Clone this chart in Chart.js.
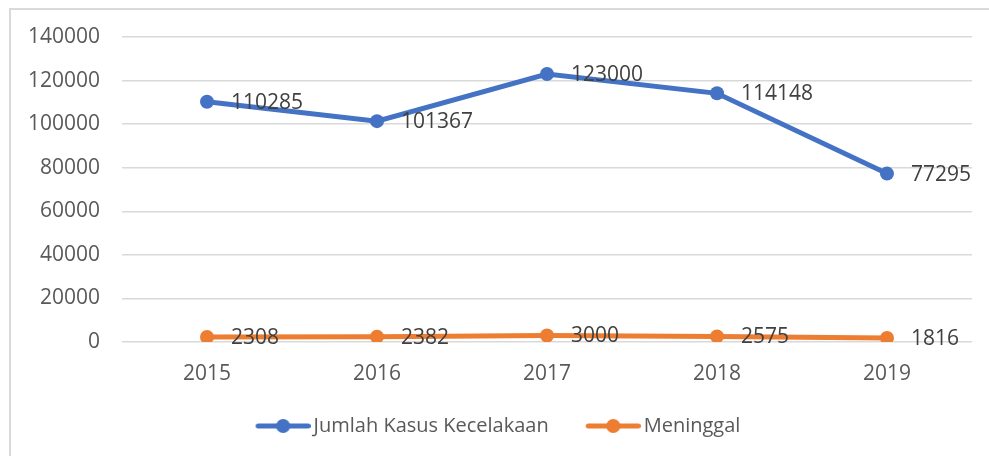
<!DOCTYPE html>
<html>
<head>
<meta charset="utf-8">
<script src="https://cdn.jsdelivr.net/npm/chart.js@4.4.1/dist/chart.umd.min.js"></script>
<style>
  html, body { margin: 0; padding: 0; background: #fff; overflow: hidden; }
  #frame { position: absolute; left: 9px; top: 8px; width: 1000px; height: 470px; border: 2px solid #d9d9d9; border-right: none; border-bottom: none; box-sizing: border-box; }
  #wrap { position: absolute; left: 0; top: 0; width: 989px; height: 456px; }
</style>
</head>
<body>
<div id="frame"></div>
<div id="wrap"><canvas id="c" width="989" height="456"></canvas></div>
<script>
const categories = ['2015', '2016', '2017', '2018', '2019'];
const seriesNames = ['Jumlah Kasus Kecelakaan', 'Meninggal'];
const kecelakaan = [110285, 101367, 123000, 114148, 77295];
const meninggal = [2308, 2382, 3000, 2575, 1816];
const yTicks = [0, 20000, 40000, 60000, 80000, 100000, 120000, 140000];

const BLUE = '#4472C4';
const ORANGE = '#ED7D31';
const FONT = "'Open Sans', 'Noto Sans', sans-serif";

function legendIcon(color) {
  const cv = document.createElement('canvas');
  cv.width = 70; cv.height = 16;
  const g = cv.getContext('2d');
  g.strokeStyle = color; g.lineWidth = 5; g.lineCap = 'round';
  g.beginPath(); g.moveTo(17.5, 8); g.lineTo(67.5, 8); g.stroke();
  g.fillStyle = color;
  g.beginPath(); g.arc(42.5, 8, 7, 0, Math.PI * 2); g.fill();
  return cv;
}
const icons = [legendIcon(BLUE), legendIcon(ORANGE)];

const dataLabels = {
  id: 'dataLabels',
  afterDatasetsDraw(chart) {
    const ctx = chart.ctx;
    ctx.save();
    ctx.font = '21px ' + FONT;
    ctx.fillStyle = '#404040';
    ctx.textAlign = 'left';
    ctx.textBaseline = 'middle';
    chart.data.datasets.forEach((ds, di) => {
      const meta = chart.getDatasetMeta(di);
      meta.data.forEach((pt, i) => {
        ctx.fillText(String(ds.data[i]), pt.x + 24, pt.y + 1);
      });
    });
    ctx.restore();
  }
};

new Chart(document.getElementById('c'), {
  type: 'line',
  data: {
    labels: categories,
    datasets: [
      { label: seriesNames[0], data: kecelakaan, borderColor: BLUE, backgroundColor: BLUE,
        borderWidth: 5, pointRadius: 7, pointHoverRadius: 7, pointBackgroundColor: BLUE, pointBorderColor: BLUE, pointBorderWidth: 0, tension: 0 },
      { label: seriesNames[1], data: meninggal, borderColor: ORANGE, backgroundColor: ORANGE,
        borderWidth: 5, pointRadius: 7, pointHoverRadius: 7, pointBackgroundColor: ORANGE, pointBorderColor: ORANGE, pointBorderWidth: 0, tension: 0 }
    ]
  },
  options: {
    responsive: false,
    animation: false,
    events: [],
    layout: { padding: { left: 16, right: 17, top: 37, bottom: 10 } },
    font: { family: FONT },
    scales: {
      x: {
        offset: true,
        grid: { display: false, drawTicks: false },
        border: { display: false },
        ticks: { color: '#595959', font: { family: FONT, size: 21 }, padding: 19, maxRotation: 0 },
        afterFit(scale) { scale.height = 45; }
      },
      y: {
        min: 0, max: 140000,
        afterBuildTicks(scale) { scale.ticks = yTicks.map(v => ({ value: v })); },
        grid: { color: '#d9d9d9', lineWidth: 1.5, drawTicks: false },
        border: { display: false },
        ticks: { color: '#595959', font: { family: FONT, size: 21 }, padding: 22,
                 callback: (v) => String(v) },
        afterFit(scale) { scale.width = 106; }
      }
    },
    plugins: {
      tooltip: { enabled: false },
      legend: {
        position: 'bottom',
        labels: {
          color: '#595959',
          font: { family: FONT, size: 20 },
          usePointStyle: true,
          pointStyleWidth: 56,
          boxHeight: 16,
          padding: 29,
          generateLabels(chart) {
            return chart.data.datasets.map((ds, i) => ({
              text: ds.label, pointStyle: icons[i], fillStyle: ds.borderColor,
              strokeStyle: ds.borderColor, lineWidth: 0, hidden: false, datasetIndex: i, fontColor: '#595959'
            }));
          }
        }
      }
    }
  },
  plugins: [dataLabels]
});
</script>
</body>
</html>
